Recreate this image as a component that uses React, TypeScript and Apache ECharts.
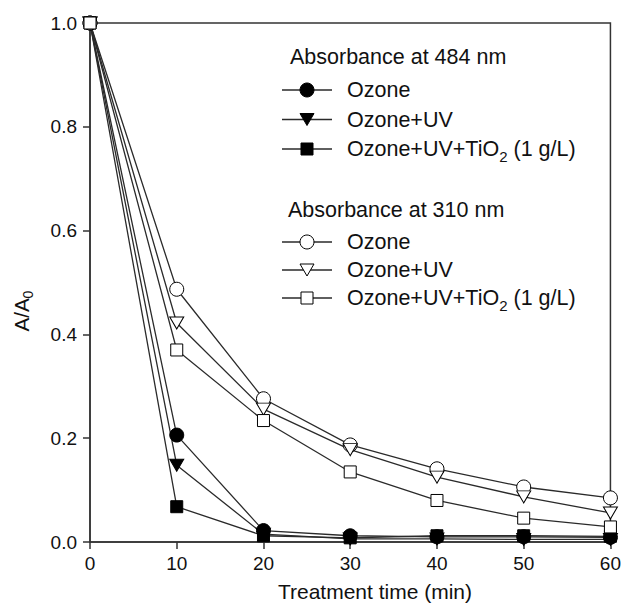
import React, { useEffect, useRef } from "react";
import * as echarts from "echarts";

const times = [0, 10, 20, 30, 40, 50, 60];
const ozone484 = [1.0, 0.206, 0.022, 0.012, 0.010, 0.010, 0.009];
const ozoneUV484 = [1.0, 0.148, 0.015, 0.006, 0.006, 0.005, 0.005];
const ozoneUVTiO2484 = [1.0, 0.068, 0.012, 0.008, 0.012, 0.012, 0.011];
const ozone310 = [1.0, 0.487, 0.276, 0.187, 0.141, 0.106, 0.085];
const ozoneUV310 = [1.0, 0.422, 0.256, 0.178, 0.125, 0.087, 0.056];
const ozoneUVTiO2310 = [1.0, 0.37, 0.234, 0.135, 0.080, 0.046, 0.029];

const header484 = "Absorbance at 484 nm";
const header310 = "Absorbance at 310 nm";
const labelOzone = "Ozone";
const labelUV = "Ozone+UV";
const labelTiO2Pre = "Ozone+UV+TiO";
const labelTiO2Sub = "2";
const labelTiO2Post = " (1 g/L)";
const xTitle = "Treatment time (min)";

const FONT = '"Liberation Sans", Arial, Helvetica, sans-serif';
const INK = "#111";
const LINE = "#2a2a2a";
const LEG_FS = 21.5;

type Mk = { kind: "circle" | "tri" | "rect"; filled: boolean };

const seriesDefs: { name: string; data: number[]; mk: Mk }[] = [
  { name: "484 Ozone", data: ozone484, mk: { kind: "circle", filled: true } },
  { name: "484 Ozone+UV", data: ozoneUV484, mk: { kind: "tri", filled: true } },
  { name: "484 Ozone+UV+TiO2", data: ozoneUVTiO2484, mk: { kind: "rect", filled: true } },
  { name: "310 Ozone", data: ozone310, mk: { kind: "circle", filled: false } },
  { name: "310 Ozone+UV", data: ozoneUV310, mk: { kind: "tri", filled: false } },
  { name: "310 Ozone+UV+TiO2", data: ozoneUVTiO2310, mk: { kind: "rect", filled: false } },
];

function legendMarker(kind: Mk["kind"], filled: boolean, cx: number, cy: number): any {
  const style = { fill: filled ? "#000" : "#fff", stroke: "#000", lineWidth: 1 };
  if (kind === "circle") return { type: "circle", shape: { cx, cy, r: 7 }, style, z: 12 };
  if (kind === "rect") return { type: "rect", shape: { x: cx - 6, y: cy - 6, width: 12, height: 12 }, style, z: 12 };
  return {
    type: "polygon",
    shape: { points: [[cx - 7, cy - 6], [cx + 7, cy - 6], [cx, cy + 6]] },
    style,
    z: 12,
  };
}

const richT = { fontSize: LEG_FS, fontFamily: FONT, color: INK };
const richS = { fontSize: 15, fontFamily: FONT, color: INK, padding: [15, 0, 0, 0] };

function legendItem(label: "ozone" | "uv" | "tio2", kind: Mk["kind"], filled: boolean, y: number): any[] {
  const els: any[] = [
    { type: "line", shape: { x1: 282, y1: y, x2: 332, y2: y }, style: { stroke: LINE, lineWidth: 1.3 }, z: 11 },
    legendMarker(kind, filled, 307, y),
  ];
  let text = "";
  if (label === "ozone") text = `{t|${labelOzone}}`;
  else if (label === "uv") text = `{t|${labelUV}}`;
  else text = `{t|${labelTiO2Pre}}{s|${labelTiO2Sub}}{t|${labelTiO2Post}}`;
  els.push({
    type: "text",
    x: 347,
    y,
    style: { text, align: "left", verticalAlign: "middle", rich: { t: richT, s: richS }, fill: INK },
    z: 12,
  });
  return els;
}

export default function App() {
  const ref = useRef<HTMLDivElement>(null);
  useEffect(() => {
    if (!ref.current) return;
    const chart = echarts.init(ref.current, null, { renderer: "svg" });
    const series = seriesDefs.map((s) => ({
      name: s.name,
      type: "line",
      data: times.map((t, i) => [t, s.data[i]]),
      symbol: s.mk.kind === "circle" ? "circle" : s.mk.kind === "rect" ? "rect" : "triangle",
      symbolRotate: s.mk.kind === "tri" ? 180 : 0,
      symbolSize: s.mk.kind === "circle" ? 14 : s.mk.kind === "rect" ? 12 : [14, 12],
      showAllSymbol: true,
      clip: false,
      lineStyle: { color: LINE, width: 1.3 },
      itemStyle: {
        color: s.mk.filled ? "#000" : "#fff",
        borderColor: "#000",
        borderWidth: 1,
        opacity: 1,
      },
      emphasis: { disabled: true },
    }));

    const graphic: any[] = [
      {
        type: "text",
        x: 290,
        y: 57,
        style: { text: header484, fontSize: LEG_FS, fontFamily: FONT, fill: INK, align: "left", verticalAlign: "middle" },
      },
      ...legendItem("ozone", "circle", true, 90),
      ...legendItem("uv", "tri", true, 119.5),
      ...legendItem("tio2", "rect", true, 149),
      {
        type: "text",
        x: 288,
        y: 210,
        style: { text: header310, fontSize: LEG_FS, fontFamily: FONT, fill: INK, align: "left", verticalAlign: "middle" },
      },
      ...legendItem("ozone", "circle", false, 242),
      ...legendItem("uv", "tri", false, 270),
      ...legendItem("tio2", "rect", false, 298),
      {
        type: "text",
        x: 375,
        y: 591,
        style: { text: xTitle, fontSize: 21, fontFamily: FONT, fill: INK, align: "center", verticalAlign: "middle" },
      },
      {
        type: "text",
        x: 21,
        y: 311,
        rotation: Math.PI / 2,
        style: {
          text: "{t|A/A}{s|0}",
          align: "center",
          verticalAlign: "middle",
          rich: { t: { fontSize: 20.5, fontFamily: FONT, color: INK }, s: { fontSize: 14, fontFamily: FONT, color: INK, padding: [14, 0, 0, 0] } },
          fill: INK,
        },
      },
    ];

    chart.setOption({
      animation: false,
      backgroundColor: "#fff",
      grid: { left: 90, right: 13, top: 23, bottom: 63, show: true, borderColor: "#333", borderWidth: 1.5, backgroundColor: "transparent" },
      xAxis: {
        type: "value",
        min: 0,
        max: 60,
        interval: 10,
        axisLine: { show: true, lineStyle: { color: "#333", width: 1.5 } },
        axisTick: { show: true, inside: false, length: 7, lineStyle: { color: "#333", width: 1.5 } },
        axisLabel: { fontSize: 19, fontFamily: FONT, color: INK, margin: 12 },
        splitLine: { show: false },
      },
      yAxis: {
        type: "value",
        min: 0,
        max: 1,
        interval: 0.2,
        axisLine: { show: true, lineStyle: { color: "#333", width: 1.5 } },
        axisTick: { show: true, inside: false, length: 7, lineStyle: { color: "#333", width: 1.5 } },
        axisLabel: { fontSize: 19, fontFamily: FONT, color: INK, margin: 13, formatter: (v: number) => v.toFixed(1) },
        splitLine: { show: false },
      },
      series,
      graphic,
    });
    return () => chart.dispose();
  }, []);
  return (
    <div
      ref={ref}
      style={{ position: "fixed", left: 0, top: 0, width: 624, height: 605, background: "#fff" }}
    />
  );
}
